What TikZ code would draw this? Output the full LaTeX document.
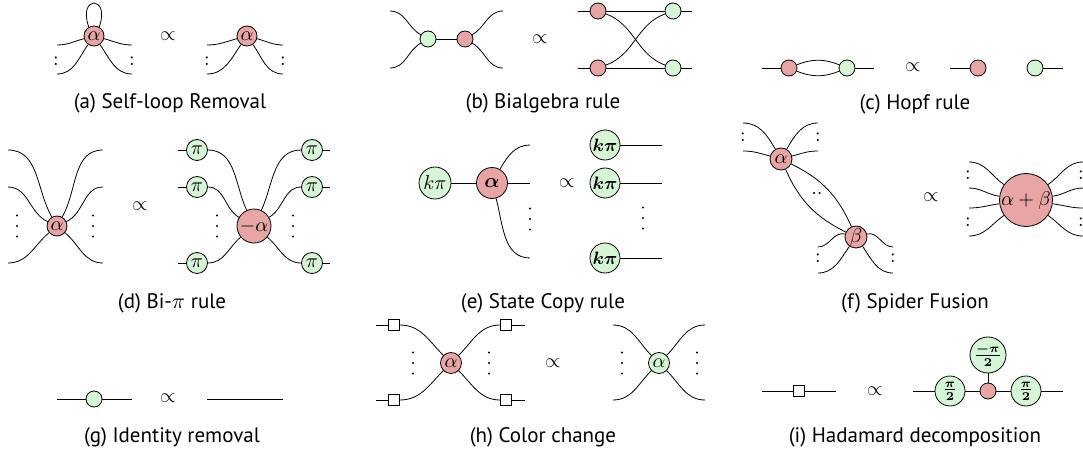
\documentclass[tikz,border=0pt]{standalone}
\usepackage{amsmath}
\usepackage{fontspec}
\setmainfont{PT Sans}
\definecolor{zxred}{RGB}{232,165,165}
\definecolor{zxgreen}{RGB}{214,245,214}
\tikzset{
  zr/.style={circle,draw,fill=zxred,inner sep=0pt,minimum size=#1},
  zr/.default=8pt,
  zg/.style={circle,draw,fill=zxgreen,inner sep=0pt,minimum size=#1},
  zg/.default=8pt,
  hbox/.style={rectangle,draw,fill=white,inner sep=0pt,minimum size=5.5pt},
  dts/.style={inner sep=0pt},
  capt/.style={font=\fontsize{10.5}{12}\selectfont},
  vd/.pic={\foreach \t in {-10.5,0,10.5} \fill (0,\t) circle (0.6pt);}
}

\begin{document}
\begin{tikzpicture}[x=0.5pt,y=0.5pt]
			%%%%% START %%%%%
			\useasboundingbox (0,0) rectangle (1083,-455);
			\def\ps{$\propto$}
			\def\hp{{\footnotesize$\boldsymbol{\frac{\pi}{2}}$}}
			
			%%%%% (a) %%%%%
			\node[zr=10pt] (sa) at (94,-36) {$\alpha$};
			\node[zr=10pt] (sb) at (247,-36) {$\alpha$};
			\foreach \n/\x/\y in {aL1/57/-45, aL2/57/-74, aR1/132/-45, aR2/132/-74, bL1/207/-45, bL2/207/-74, bR1/283/-45, bR2/283/-74}
				\coordinate (\n) at (\x,\y);
			\draw (sa.120) .. controls +(110:34) and +(70:34) .. (sa.60);
			\foreach \s/\l/\r in {sa/aL/aR, sb/bL/bR} {
				\draw (\l1) to[out=0,in=195] (\s);
				\draw (\l2) to[out=0,in=235] (\s);
				\draw (\r1) to[out=180,in=-15] (\s);
				\draw (\r2) to[out=180,in=-55] (\s);
			}
			\foreach \n/\x in {da1/56, da2/132, da3/207, da4/283}
				\node[dts] (\n) at (\x,-61) {$:$};
			\node (pa) at (168,-36) {\ps};
			\node[capt] (capa) at (170,-103) {(a) Self-loop Removal};
			
			%%%%% (b) %%%%%
			\node[zg] (g1) at (428,-39) {};
			\node[zr] (r1) at (465,-39) {};
			\node[zr] (r2) at (598,-11) {};
			\node[zr] (r3) at (598,-68) {};
			\node[zg] (g2) at (673,-11) {};
			\node[zg] (g3) at (673,-68) {};
			\foreach \n/\x/\y in {bl1/390/-11, bl2/390/-68, br1/503/-11, br2/503/-68, bx1/578/-11, bx2/578/-68, by1/692/-11, by2/692/-68}
				\coordinate (\n) at (\x,\y);
			\draw (bl1) to[out=0,in=150] (g1);
			\draw (bl2) to[out=0,in=-150] (g1);
			\draw (br1) to[out=180,in=30] (r1);
			\draw (br2) to[out=180,in=-30] (r1);
			\draw (g1) -- (r1);
			\draw (bx1) -- (r2) -- (g2) -- (by1);
			\draw (bx2) -- (r3) -- (g3) -- (by2);
			\draw (r2) to[out=-20,in=160] (g3);
			\draw (r3) to[out=20,in=200] (g2);
			\node (pb) at (540,-39) {\ps};
			\node[capt] (capb) at (543,-103) {(b) Bialgebra rule};
			
			%%%%% (c) %%%%%
			\node[zr] (r4) at (789,-68) {};
			\node[zg] (g4) at (847,-68) {};
			\node[zr] (r5) at (978,-68) {};
			\node[zg] (g5) at (1035,-68) {};
			\foreach \n/\x in {c1/762, c2/874, c3/950, c4/1063}
				\coordinate (\n) at (\x,-68);
			\draw (c1) -- (r4);
			\draw (r4) to[bend left=22] (g4);
			\draw (r4) to[bend right=22] (g4);
			\draw (g4) -- (c2);
			\draw (c3) -- (r5);
			\draw (g5) -- (c4);
			\node (pc) at (913,-67) {\ps};
			\node[capt] (capc) at (915,-104) {(c) Hopf rule};
			
			%%%%% (d) %%%%%
			\node[zr=10pt] (d0) at (57,-226) {$\alpha$};
			\node[zr=17pt] (d1) at (254,-226) {$-\alpha$};
			\foreach \n/\x/\y in {dl1/8/-150, dl2/8/-187, dl3/8/-263, dr1/103/-150, dr2/103/-187, dr3/103/-263}
				\coordinate (\n) at (\x,\y);
			\draw (dl1) to[out=0,in=120] (d0);
			\draw (dl2) to[out=0,in=155] (d0);
			\draw (dl3) to[out=0,in=-140] (d0);
			\draw (dr1) to[out=180,in=60] (d0);
			\draw (dr2) to[out=180,in=25] (d0);
			\draw (dr3) to[out=180,in=-40] (d0);
			\foreach \i/\x/\y in {1/197/-150, 2/197/-187, 3/197/-263, 4/312/-150, 5/312/-187, 6/312/-263}
				\node[zg=10.5pt] (p\i) at (\x,\y) {$\pi$};
			\foreach \i/\x/\y in {1/178/-150, 2/178/-187, 3/178/-263, 4/330/-150, 5/330/-187, 6/330/-263}
				\coordinate (q\i) at (\x,\y);
			\foreach \i in {1,...,6}
				\draw (q\i) -- (p\i);
			\draw (p1) to[out=0,in=115] (d1);
			\draw (p2) to[out=0,in=150] (d1);
			\draw (p3) to[out=0,in=-140] (d1);
			\draw (p4) to[out=180,in=65] (d1);
			\draw (p5) to[out=180,in=30] (d1);
			\draw (p6) to[out=180,in=-40] (d1);
			\foreach \x in {17, 93, 217, 293}
				\pic at (\x,-226) {vd};
			\node (pd) at (140,-206) {\ps};
			\node[capt] (capd) at (172,-303) {(d) Bi-$\pi$ rule};
			
			%%%%% (e) %%%%%
			\node[zg=16pt] (k0) at (435,-183) {$k\pi$};
			\node[zr=15.5pt] (e0) at (492,-183) {$\boldsymbol{\alpha}$};
			\foreach \n/\y in {e1/-145, e2/-183, e3/-258}
				\coordinate (\n) at (530,\y);
			\draw (k0) -- (e0);
			\draw (e0) to[out=60,in=180] (e1);
			\draw (e0) -- (e2);
			\draw (e0) to[out=-75,in=180] (e3);
			\foreach \i/\y in {1/-145, 2/-183, 3/-258} {
				\node[zg=15pt] (k\i) at (605,\y) {\small$\boldsymbol{k\pi}$};
				\coordinate (f\i) at (662,\y);
				\draw (k\i) -- (f\i);
			}
			\pic at (530,-219) {vd};
			\pic at (643,-218) {vd};
			\node (pe) at (567,-183) {\ps};
			\node[capt] (cape) at (543,-303) {(e) State Copy rule};
			
			%%%%% (f) %%%%%
			\node[zr=11pt] (fa) at (781,-159) {$\alpha$};
			\node[zr=11pt] (fb) at (856,-237) {$\beta$};
			\node[zr=26.5pt] (fs) at (1026,-200) {$\alpha+\beta$};
			\foreach \n/\x/\y in {fa1/743/-123, fa2/743/-151, fa3/818/-123, fa4/818/-151, fb1/818/-247, fb2/818/-273, fb3/893/-247, fb4/893/-273}
				\coordinate (\n) at (\x,\y);
			\draw (fa1) to[out=0,in=120] (fa);
			\draw (fa2) to[out=0,in=165] (fa);
			\draw (fa3) to[out=180,in=60] (fa);
			\draw (fa4) to[out=180,in=15] (fa);
			\draw (fa) to[bend left=20] (fb);
			\draw (fa) to[bend right=20] (fb);
			\draw (fb1) to[out=0,in=165] (fb);
			\draw (fb2) to[out=0,in=235] (fb);
			\draw (fb3) to[out=180,in=15] (fb);
			\draw (fb4) to[out=180,in=-55] (fb);
			\foreach \i/\y/\a in {1/-162/145, 2/-188/172, 3/-208/188, 4/-236/215} {
				\coordinate (sl\i) at (969,\y);
				\coordinate (sr\i) at (1083,\y);
				\draw (sl\i) to[out=0,in=\a] (fs);
				\draw (sr\i) to[out=180,in=180-\a] (fs);
			}
			\foreach \n/\x/\y in {df1/743/-137, df2/818/-137, df3/818/-258, df4/893/-258, df5/968/-175, df6/968/-222, df7/1081/-175, df8/1081/-222}
				\node[dts] (\n) at (\x,\y) {$:$};
			\node[dts] (dfm) at (817,-193) {$..$};
			\node (pf) at (931,-197) {\ps};
			\node[capt] (capf) at (915,-303) {(f) Spider Fusion};
			
			%%%%% (g) %%%%%
			\node[zg] (gi) at (94,-399) {};
			\foreach \n/\x in {gw1/57, gw2/132, gw3/207, gw4/283}
				\coordinate (\n) at (\x,-399);
			\draw (gw1) -- (gi) -- (gw2);
			\draw (gw3) -- (gw4);
			\node (pg) at (168,-398) {\ps};
			\node[capt] (capg) at (172,-437) {(g) Identity removal};
			
			%%%%% (h) %%%%%
			\node[zr=10.5pt] (ha) at (451,-363) {$\alpha$};
			\node[zg=10.5pt] (hb) at (659,-363) {$\alpha$};
			\foreach \n/\x/\y in {h1/394/-325, h2/394/-400, h3/506/-325, h4/506/-400}
				\node[hbox] (\n) at (\x,\y) {};
			\foreach \n/\x/\y in {hl1/376/-325, hl2/376/-400, hr1/525/-325, hr2/525/-400, hx1/613/-325, hx2/613/-400, hy1/705/-325, hy2/705/-400}
				\coordinate (\n) at (\x,\y);
			\draw (hl1) -- (h1);
			\draw (hl2) -- (h2);
			\draw (h3) -- (hr1);
			\draw (h4) -- (hr2);
			\foreach \s/\l/\r in {ha/h1/h3, hb/hx1/hy1}
				\draw (\l) to[out=0,in=135] (\s) to[out=45,in=180] (\r);
			\foreach \s/\l/\r in {ha/h2/h4, hb/hx2/hy2}
				\draw (\l) to[out=0,in=-135] (\s) to[out=-45,in=180] (\r);
			\foreach \x in {413, 489, 622, 697}
				\pic at (\x,-363) {vd};
			\node (ph) at (553,-363) {\ps};
			\node[capt] (caph) at (543,-437) {(h) Color change};
			
			%%%%% (i) %%%%%
			\node[hbox] (ih) at (799,-391) {};
			\node[zg=15pt] (ip1) at (950,-391) {\hp};
			\node[zr] (ir) at (988,-391) {};
			\node[zg=15pt] (ip2) at (1026,-391) {\hp};
			\node[zg=15pt] (ip3) at (988,-355) {{\footnotesize$\boldsymbol{\frac{-\pi}{2}}$}};
			\foreach \n/\x in {i1/762, i2/836, i3/913, i4/1063}
				\coordinate (\n) at (\x,-391);
			\draw (i1) -- (ih) -- (i2);
			\draw (i3) -- (ip1) -- (ir) -- (ip2) -- (i4);
			\draw (ip3) -- (ir);
			\node (pi) at (875,-391) {\ps};
			\node[capt] (capi) at (915,-437) {(i) Hadamard decomposition};
			%%%%% END %%%%%
\end{tikzpicture}
\end{document}
